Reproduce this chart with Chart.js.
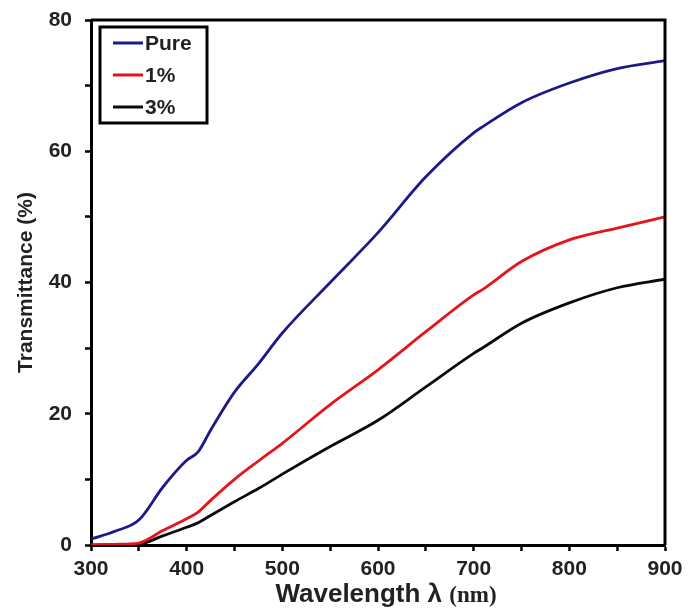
<!DOCTYPE html>
<html>
<head>
<meta charset="utf-8">
<script src="https://cdn.jsdelivr.net/npm/chart.js@4.4.1/dist/chart.umd.min.js"></script>
<style>
  html, body { margin: 0; padding: 0; background: #fff; }
  #wrap { width: 700px; height: 610px; }
</style>
</head>
<body>
<div id="wrap"><canvas id="trans-chart" width="700" height="610"></canvas></div>
<script>
// wavelength grid (nm) and transmittance (%) for each sample
const wavelength = [300, 325, 350, 375, 400, 412, 425, 450, 475, 500, 550, 600, 650, 700, 710, 750, 800, 850, 900];
const pure =       [0.9, 2.1, 3.8, 8.8, 12.9, 14.2, 17.5, 23.3, 27.6, 32.3, 40.0, 47.6, 56.1, 62.8, 63.8, 67.4, 70.4, 72.6, 73.8];
const onePct =     [0.0, 0.1, 0.3, 2.2, 4.0, 5.0, 6.8, 10.0, 12.8, 15.5, 21.4, 26.7, 32.5, 38.1, 39.0, 43.2, 46.5, 48.3, 50.0];
const threePct =   [0.0, 0.0, 0.1, 1.4, 2.7, 3.4, 4.5, 6.6, 8.6, 10.8, 15.0, 19.0, 24.1, 29.2, 30.1, 33.8, 36.9, 39.2, 40.5];

const seriesNames = ["Pure", "1%", "3%"];
const seriesColors = ["#1c1a8a", "#e5141b", "#0a0a0a"];

const textColor = "#222";
const sansBold = "'Liberation Sans', Arial, sans-serif";

function toPoints(values) {
    return wavelength.map((w, i) => ({ x: w, y: values[i] }));
}

// top and right edges of the plot box
const frame = {
    id: "frame",
    afterDraw(chart) {
        const { ctx, chartArea: a } = chart;
        ctx.save();
        ctx.strokeStyle = "#000";
        ctx.lineWidth = 3;
        ctx.beginPath();
        ctx.moveTo(a.left, a.top);
        ctx.lineTo(a.right, a.top);
        ctx.lineTo(a.right, a.bottom);
        ctx.stroke();
        ctx.restore();
    }
};

// boxed legend in the upper left corner
const boxLegend = {
    id: "boxLegend",
    afterDraw(chart) {
        const { ctx, chartArea: a } = chart;
        const x = a.left + 9, y = a.top + 7, w = 107, h = 96;
        ctx.save();
        ctx.fillStyle = "#fff";
        ctx.fillRect(x, y, w, h);
        ctx.strokeStyle = "#000";
        ctx.lineWidth = 3;
        ctx.strokeRect(x, y, w, h);
        ctx.font = "bold 21px " + sansBold;
        ctx.textBaseline = "middle";
        chart.data.datasets.forEach((ds, i) => {
            const rowY = y + 16 + i * 32;
            ctx.strokeStyle = ds.borderColor;
            ctx.lineWidth = 3;
            ctx.beginPath();
            ctx.moveTo(x + 13, rowY);
            ctx.lineTo(x + 43, rowY);
            ctx.stroke();
            ctx.fillStyle = textColor;
            ctx.fillText(ds.label, x + 45, rowY + 1);
        });
        ctx.restore();
    }
};

// x-axis title: sans text followed by serif unit
const xTitle = {
    id: "xTitle",
    afterDraw(chart) {
        const { ctx, chartArea: a } = chart;
        const part1 = "Wavelength \u03bb ";
        const part2 = "(nm)";
        const f1 = "bold 26px " + sansBold;
        const f2 = "bold 23px 'Liberation Serif', 'Times New Roman', serif";
        ctx.save();
        ctx.font = f1;
        const w1 = ctx.measureText(part1).width;
        ctx.font = f2;
        const w2 = ctx.measureText(part2).width;
        const cx = (a.left + a.right) / 2 + 8;
        const startX = cx - (w1 + w2) / 2;
        const baseY = 602;
        ctx.fillStyle = textColor;
        ctx.textBaseline = "alphabetic";
        ctx.font = f1;
        ctx.fillText(part1, startX, baseY);
        ctx.font = f2;
        ctx.fillText(part2, startX + w1, baseY);
        ctx.restore();
    }
};

const chart = new Chart(document.getElementById("trans-chart"), {
    type: "line",
    data: {
        datasets: [pure, onePct, threePct].map((vals, i) => ({
            label: seriesNames[i],
            data: toPoints(vals),
            borderColor: seriesColors[i],
            backgroundColor: seriesColors[i],
            borderWidth: 2.8,
            pointRadius: 0,
            cubicInterpolationMode: "monotone",
            fill: false
        }))
    },
    options: {
        responsive: false,
        animation: false,
        layout: { padding: { left: 0, right: 35, top: 20, bottom: 0 } },
        plugins: {
            legend: { display: false },
            tooltip: { enabled: false }
        },
        scales: {
            x: {
                type: "linear",
                min: 300,
                max: 900,
                afterFit(scale) {
                    scale.height = 65;
                    scale.paddingLeft = 0;
                    scale.paddingRight = 0;
                },
                border: { color: "#000", width: 3 },
                grid: {
                    drawOnChartArea: false,
                    drawTicks: true,
                    tickLength: 6,
                    tickWidth: 2.5,
                    tickColor: "#000"
                },
                ticks: {
                    stepSize: 50,
                    autoSkip: false,
                    maxRotation: 0,
                    padding: 6,
                    color: textColor,
                    font: { family: sansBold, size: 21, weight: "bold" },
                    callback: v => (v % 100 === 0 ? String(v) : "")
                }
            },
            y: {
                min: 0,
                max: 80,
                afterFit(scale) {
                    scale.width = 91;
                    scale.paddingTop = 0;
                    scale.paddingBottom = 0;
                },
                border: { color: "#000", width: 3 },
                grid: {
                    drawOnChartArea: false,
                    drawTicks: true,
                    tickLength: 6,
                    tickWidth: 2.5,
                    tickColor: "#000"
                },
                ticks: {
                    stepSize: 10,
                    autoSkip: false,
                    padding: 13,
                    color: textColor,
                    font: { family: sansBold, size: 21, weight: "bold" },
                    callback: v => (v % 20 === 0 ? String(v) : "")
                },
                title: {
                    display: true,
                    text: "Transmittance (%)",
                    color: textColor,
                    font: { family: sansBold, size: 21, weight: "bold" },
                    padding: { top: 14, bottom: 0 }
                }
            }
        }
    },
    plugins: [frame, boxLegend, xTitle]
});
</script>
</body>
</html>
